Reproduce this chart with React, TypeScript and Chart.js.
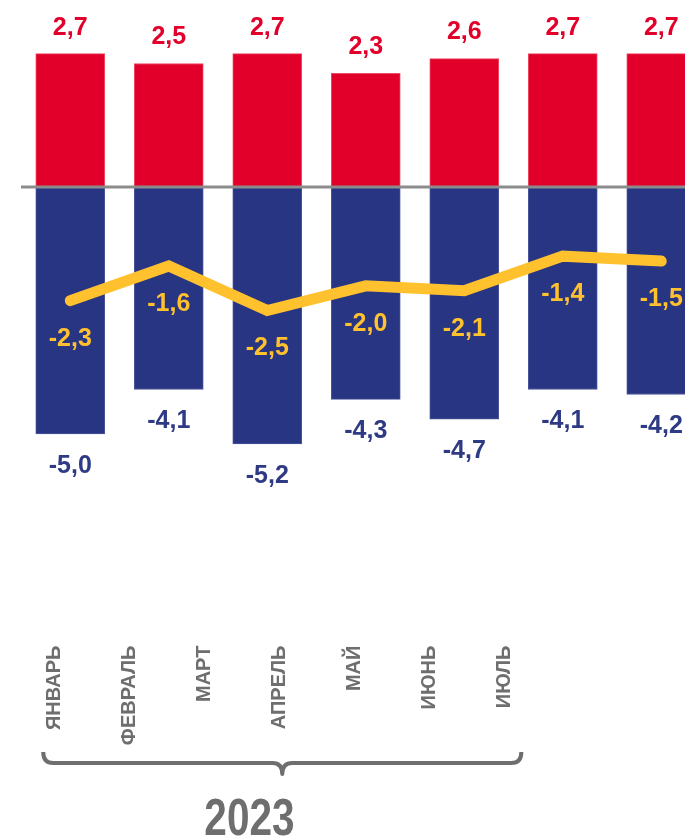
import React, { useEffect, useRef } from 'react';
import { Chart, registerables } from 'chart.js';

Chart.register(...registerables);

const months = ['ЯНВАРЬ', 'ФЕВРАЛЬ', 'МАРТ', 'АПРЕЛЬ', 'МАЙ', 'ИЮНЬ', 'ИЮЛЬ'];
const positiveValues = [2.7, 2.5, 2.7, 2.3, 2.6, 2.7, 2.7];
const negativeValues = [-5.0, -4.1, -5.2, -4.3, -4.7, -4.1, -4.2];
const netValues = [-2.3, -1.6, -2.5, -2.0, -2.1, -1.4, -1.5];
const yearLabel = '2023';

const RED = '#E2002B';
const BLUE = '#283582';
const YELLOW = '#FFC12D';
const BLUE_TEXT = '#2E3A84';
const GRAY = '#6E6E6E';
const FONT = '"Liberation Sans", Arial, sans-serif';

const fmt = (v: number) => v.toFixed(1).replace('.', ',');

const overlayPlugin = {
  id: 'overlay',
  afterDatasetsDraw(chart: any) {
    const ctx = chart.ctx as CanvasRenderingContext2D;
    const y = chart.scales.y;
    const area = chart.chartArea;
    const zero = y.getPixelForValue(0);
    ctx.save();
    ctx.strokeStyle = '#8C8C8C';
    ctx.lineWidth = 3;
    ctx.beginPath();
    ctx.moveTo(area.left, zero);
    ctx.lineTo(chart.width, zero);
    ctx.stroke();

    ctx.font = `bold 25px ${FONT}`;
    ctx.textAlign = 'center';
    ctx.textBaseline = 'middle';
    const metaLine = chart.getDatasetMeta(0);
    const metaPos = chart.getDatasetMeta(1);
    const metaNeg = chart.getDatasetMeta(2);
    metaPos.data.forEach((el: any, i: number) => {
      ctx.fillStyle = RED;
      ctx.fillText(fmt(positiveValues[i]), el.x, el.y - 26);
    });
    metaNeg.data.forEach((el: any, i: number) => {
      ctx.fillStyle = BLUE_TEXT;
      ctx.fillText(fmt(negativeValues[i]), el.x, el.y + 32);
    });
    metaLine.data.forEach((el: any, i: number) => {
      ctx.fillStyle = YELLOW;
      ctx.fillText(fmt(netValues[i]), el.x, el.y + 38);
    });
    ctx.restore();
  },
  afterDraw(chart: any) {
    const ctx = chart.ctx as CanvasRenderingContext2D;
    const x2 = chart.scales.x2;
    const xl = x2.getPixelForValue(-0.146);
    const xr = x2.getPixelForValue(6.22);
    const xm = (xl + xr) / 2;
    const yTop = 752;
    const yLine = 763;
    const yTip = 774;
    const r = 10;
    ctx.save();
    ctx.strokeStyle = GRAY;
    ctx.lineWidth = 4;
    ctx.lineJoin = 'round';
    ctx.beginPath();
    ctx.moveTo(xl, yTop);
    ctx.quadraticCurveTo(xl, yLine, xl + r, yLine);
    ctx.lineTo(xm - r, yLine);
    ctx.quadraticCurveTo(xm, yLine, xm, yTip);
    ctx.quadraticCurveTo(xm, yLine, xm + r, yLine);
    ctx.lineTo(xr - r, yLine);
    ctx.quadraticCurveTo(xr, yLine, xr, yTop);
    ctx.stroke();

    ctx.fillStyle = GRAY;
    ctx.font = `bold 52px ${FONT}`;
    ctx.textAlign = 'center';
    ctx.textBaseline = 'alphabetic';
    const cx = x2.getPixelForValue(2.6);
    ctx.translate(cx, 835);
    ctx.scale(0.78, 1);
    ctx.fillText(yearLabel, 0, 0);
    ctx.restore();
  },
};

export default function App() {
  const ref = useRef<HTMLCanvasElement>(null);
  useEffect(() => {
    const canvas = ref.current!;
    const chart = new Chart(canvas, {
      type: 'bar',
      data: {
        datasets: [
          {
            type: 'line',
            label: 'Сальдо',
            data: netValues.map((v, i) => ({ x: i, y: v })),
            borderColor: YELLOW,
            borderWidth: 11,
            pointRadius: 0,
            borderCapStyle: 'round',
            borderJoinStyle: 'miter',
            tension: 0,
            xAxisID: 'x',
            yAxisID: 'y',
            order: 0,
          } as any,
          {
            type: 'bar',
            label: 'Плюс',
            data: positiveValues.map((v, i) => ({ x: i, y: v })),
            backgroundColor: RED,
            borderColor: '#EC4A63',
            borderWidth: 1,
            barThickness: 69,
            grouped: false,
            xAxisID: 'x',
            yAxisID: 'y',
            order: 1,
          } as any,
          {
            type: 'bar',
            label: 'Минус',
            data: negativeValues.map((v, i) => ({ x: i, y: v })),
            backgroundColor: BLUE,
            borderColor: '#4B569C',
            borderWidth: 1,
            barThickness: 69,
            grouped: false,
            xAxisID: 'x',
            yAxisID: 'y',
            order: 2,
          } as any,
        ],
      },
      options: {
        responsive: false,
        animation: false,
        layout: { padding: { left: 21, right: 0, top: 14.1, bottom: 87.4 } },
        plugins: { legend: { display: false }, tooltip: { enabled: false } },
        scales: {
          x: { type: 'linear', display: false, offset: false, grid: { offset: false }, min: -0.5, max: 6.241 },
          x2: {
            type: 'linear',
            position: 'bottom',
            offset: false,
            min: -0.442,
            max: 8.399,
            afterBuildTicks: (s: any) => {
              s.ticks = months.map((_, i) => ({ value: i }));
            },
            afterFit: (s: any) => {
              s.height = 120;
            },
            grid: { display: false, drawTicks: false, offset: false },
            border: { display: false },
            ticks: {
              autoSkip: false,
              minRotation: 90,
              maxRotation: 90,
              padding: 14,
              color: GRAY,
              font: { family: FONT, size: 20, weight: 'bold' },
              callback: (v: any) => months[v] ?? '',
            },
          },
          y: { display: false, min: -9, max: 3.5 },
        },
      } as any,
      plugins: [overlayPlugin],
    });
    return () => chart.destroy();
  }, []);
  return (
    <div style={{ position: 'fixed', left: 0, top: 0, width: 685, height: 839, background: '#fff' }}>
      <canvas ref={ref} width={685} height={839} style={{ display: 'block' }} />
    </div>
  );
}
